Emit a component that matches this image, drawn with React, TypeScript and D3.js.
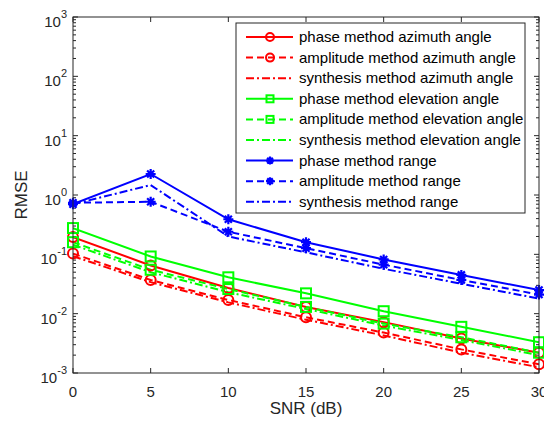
import * as d3 from 'd3'
import React from 'react'

const snr = [0, 5, 10, 15, 20, 25, 30]
const phaseAz = [0.195, 0.065, 0.027, 0.013, 0.0072, 0.0038, 0.0022]
const ampAz = [0.103, 0.037, 0.017, 0.0087, 0.0048, 0.0025, 0.0014]
const synAz = [0.093, 0.034, 0.0155, 0.0079, 0.0043, 0.0022, 0.00125]
const phaseEl = [0.277, 0.092, 0.041, 0.022, 0.011, 0.006, 0.0033]
const ampEl = [0.16, 0.055, 0.026, 0.013, 0.0068, 0.004, 0.0022]
const synEl = [0.145, 0.05, 0.023, 0.012, 0.0063, 0.0036, 0.002]
const phaseRg = [0.7, 2.26, 0.39, 0.16, 0.082, 0.045, 0.025]
const ampRg = [0.74, 0.77, 0.24, 0.127, 0.067, 0.037, 0.021]
const synRg = [0.7, 1.47, 0.2, 0.108, 0.057, 0.032, 0.018]

const xTicks = [0, 5, 10, 15, 20, 25, 30]
const yExps = [-3, -2, -1, 0, 1, 2, 3]

const series = [
  { name: 'phase method azimuth angle', values: phaseAz, color: '#ff0000', dash: '', marker: 'circle' },
  { name: 'amplitude method azimuth angle', values: ampAz, color: '#ff0000', dash: '7,4', marker: 'circle' },
  { name: 'synthesis method azimuth angle', values: synAz, color: '#ff0000', dash: '8,3,2,3', marker: 'none' },
  { name: 'phase method elevation angle', values: phaseEl, color: '#00ff00', dash: '', marker: 'square' },
  { name: 'amplitude method elevation angle', values: ampEl, color: '#00ff00', dash: '7,4', marker: 'square' },
  { name: 'synthesis method elevation angle', values: synEl, color: '#00ff00', dash: '8,3,2,3', marker: 'none' },
  { name: 'phase method range', values: phaseRg, color: '#0000ff', dash: '', marker: 'star' },
  { name: 'amplitude method range', values: ampRg, color: '#0000ff', dash: '7,4', marker: 'star' },
  { name: 'synthesis method range', values: synRg, color: '#0000ff', dash: '8,3,2,3', marker: 'none' },
]

const W = 544
const H = 423
const m = { left: 73, top: 17, right: 539, bottom: 373 }
const font = '"Liberation Sans", Arial, Helvetica, sans-serif'
const axisColor = '#262626'

function Marker({ type, x, y, color, size }: { type: string; x: number; y: number; color: string; size: number }) {
  if (type === 'circle') {
    return <circle cx={x} cy={y} r={size / 2} fill="none" stroke={color} strokeWidth={2} />
  }
  if (type === 'square') {
    return <rect x={x - size / 2} y={y - size / 2} width={size} height={size} fill="none" stroke={color} strokeWidth={2} />
  }
  if (type === 'star') {
    const r = size / 2
    const d = [0, 45, 90, 135].map(a => {
      const rad = (a * Math.PI) / 180
      return `M${x - r * Math.cos(rad)},${y - r * Math.sin(rad)}L${x + r * Math.cos(rad)},${y + r * Math.sin(rad)}`
    }).join('')
    return <path d={d} stroke={color} strokeWidth={2.2} fill="none" />
  }
  return null
}

export default function App() {
  const x = d3.scaleLinear().domain([0, 30]).range([m.left, m.right])
  const y = d3.scaleLog().domain([1e-3, 1e3]).range([m.bottom, m.top])

  const line = d3.line<number>().x((_, i) => x(snr[i])).y(d => y(d))

  const minor: number[] = []
  for (let e = -3; e < 3; e++) {
    for (let k = 2; k <= 9; k++) minor.push(k * Math.pow(10, e))
  }

  const legX = 236
  const legY = 23
  const legW = 289
  const legH = 190
  const rowH = 20.6

  return (
    <svg width={W} height={H} style={{ position: 'absolute', left: 0, top: 0, background: '#fff' }} fontFamily={font}>
      <rect x={0} y={0} width={W} height={H} fill="#fff" />
      <defs>
        <clipPath id="plot">
          <rect x={m.left} y={m.top} width={m.right - m.left} height={m.bottom - m.top} />
        </clipPath>
      </defs>

      {/* ticks */}
      <g stroke={axisColor} strokeWidth={1}>
        {xTicks.map(t => (
          <g key={'xt' + t}>
            <line x1={x(t)} x2={x(t)} y1={m.bottom} y2={m.bottom - 5} />
            <line x1={x(t)} x2={x(t)} y1={m.top} y2={m.top + 5} />
          </g>
        ))}
        {yExps.map(e => (
          <g key={'yt' + e}>
            <line x1={m.left} x2={m.left + 5} y1={y(Math.pow(10, e))} y2={y(Math.pow(10, e))} />
            <line x1={m.right} x2={m.right - 5} y1={y(Math.pow(10, e))} y2={y(Math.pow(10, e))} />
          </g>
        ))}
        {minor.map((v, i) => (
          <g key={'mt' + i}>
            <line x1={m.left} x2={m.left + 3} y1={y(v)} y2={y(v)} />
            <line x1={m.right} x2={m.right - 3} y1={y(v)} y2={y(v)} />
          </g>
        ))}
      </g>

      {/* series */}
      <g clipPath="url(#plot)">
        {series.map(s => (
          <path key={s.name} d={line(s.values) ?? ''} fill="none" stroke={s.color} strokeWidth={2} strokeDasharray={s.dash} />
        ))}
      </g>
      {series.map(s => (
        <g key={s.name + 'm'}>
          {s.values.map((v, i) => (
            <Marker key={i} type={s.marker} x={x(snr[i])} y={y(v)} color={s.color} size={10} />
          ))}
        </g>
      ))}

      {/* axes box */}
      <rect x={m.left} y={m.top} width={m.right - m.left} height={m.bottom - m.top} fill="none" stroke={axisColor} strokeWidth={1} />

      {/* tick labels */}
      <g fill={axisColor} fontSize={15}>
        {xTicks.map(t => (
          <text key={'xl' + t} x={x(t)} y={m.bottom + 24} textAnchor="middle">{t}</text>
        ))}
        {yExps.map(e => (
          <text key={'yl' + e} x={m.left - 6} y={y(Math.pow(10, e)) + 10} textAnchor="end">
            10<tspan dy={-9} fontSize={11}>{e}</tspan>
          </text>
        ))}
      </g>

      {/* axis labels */}
      <text x={(m.left + m.right) / 2} y={414} textAnchor="middle" fontSize={17} fill={axisColor}>SNR (dB)</text>
      <text transform={`translate(27,${(m.top + m.bottom) / 2}) rotate(-90)`} textAnchor="middle" fontSize={17} fill={axisColor}>RMSE</text>

      {/* legend */}
      <rect x={legX} y={legY} width={legW} height={legH} fill="#fff" stroke={axisColor} strokeWidth={1} />
      {series.map((s, i) => {
        const cy = legY + 14 + i * rowH
        return (
          <g key={s.name + 'l'}>
            <line x1={legX + 10} x2={legX + 57} y1={cy} y2={cy} stroke={s.color} strokeWidth={2} strokeDasharray={s.dash} />
            <Marker type={s.marker} x={legX + 34} y={cy} color={s.color} size={s.marker === 'square' ? 7 : 8} />
            <text x={legX + 63} y={cy + 5} fontSize={15} fill="#000">{s.name}</text>
          </g>
        )
      })}
    </svg>
  )
}
